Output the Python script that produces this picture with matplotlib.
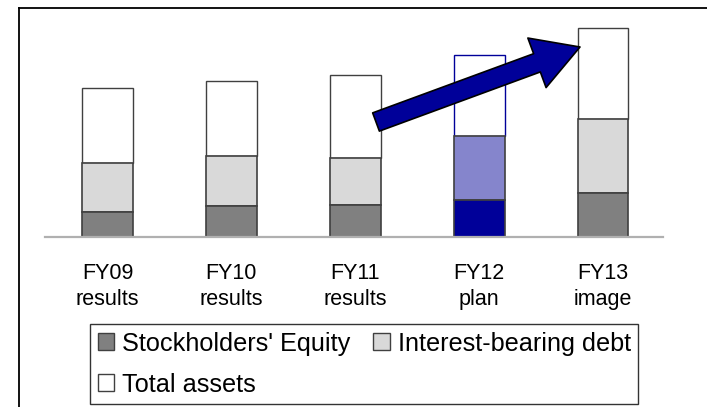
import matplotlib
matplotlib.use("Agg")
import matplotlib.pyplot as plt
from matplotlib.patches import Patch, FancyArrowPatch
from matplotlib.lines import Line2D
import numpy as np

plt.rcParams['font.family'] = ['Liberation Sans', 'DejaVu Sans']

# data (relative heights)
years = ['FY09\nresults', 'FY10\nresults', 'FY11\nresults', 'FY12\nplan', 'FY13\nimage']
equity = [25, 31, 32, 37, 44]
debt = [49, 50, 47, 64, 74]
total_assets = [149, 156, 162, 182, 209]

gray_eq, gray_debt = '#808080', '#d9d9d9'
plan_eq, plan_debt = '#000099', '#8585cc'
edge = '#404040'

fig = plt.figure(figsize=(7.07, 4.07), dpi=100)
ax = fig.add_axes([45 / 707, 170 / 407, 618 / 707, 230 / 407])

x = np.arange(len(years))
w = 0.41
eq = np.array(equity)
db = np.array(debt)
tot = np.array(total_assets)
rest = tot - eq - db

for i in range(len(x)):
    plan = years[i].endswith('plan')
    c1 = plan_eq if plan else gray_eq
    c2 = plan_debt if plan else gray_debt
    top_edge = plan_eq if plan else edge
    ax.bar(x[i], rest[i], w, bottom=eq[i] + db[i], color='white', edgecolor=top_edge, linewidth=1.0)
    ax.bar(x[i], db[i], w, bottom=eq[i], color=c2, edgecolor=edge, linewidth=1.2)
    ax.bar(x[i], eq[i], w, color=c1, edgecolor=edge, linewidth=1.2)

ax.set_xlim(-0.5045, 4.484)
ax.set_ylim(0, 230)
ax.set_xticks(x)
ax.set_xticklabels(years, fontsize=15.5, linespacing=1.3)
ax.tick_params(axis='x', length=0, pad=19)
ax.set_yticks([])
for s in ['top', 'left', 'right']:
    ax.spines[s].set_visible(False)
ax.spines['bottom'].set_color('#b0b0b0')
ax.spines['bottom'].set_linewidth(1.6)

# growth arrow from FY11/FY12 toward FY13
arrow = FancyArrowPatch((2.1675, 115), (3.814, 190),
                        arrowstyle='simple,head_length=33,head_width=38,tail_width=14',
                        mutation_scale=1, shrinkA=0, shrinkB=0,
                        facecolor='#000099', edgecolor='black', linewidth=1.2, zorder=5)
ax.add_patch(arrow)

# outer slide frame (top and left edges)
fig.add_artist(Line2D([19 / 707, 1], [1 - 8 / 407] * 2, color='black', lw=1.3))
fig.add_artist(Line2D([19 / 707] * 2, [0, 1 - 8 / 407], color='black', lw=1.3))

handles = [Patch(facecolor=gray_eq, edgecolor=edge, label="Stockholders' Equity"),
           Patch(facecolor='white', edgecolor=edge, label='Total assets'),
           Patch(facecolor=gray_debt, edgecolor=edge, label='Interest-bearing debt')]
leg = fig.legend(handles=handles, loc='upper left', bbox_to_anchor=(90 / 707, 1 - 324 / 407),
                 ncol=2, fontsize=18.2, frameon=True, fancybox=False, borderaxespad=0,
                 borderpad=0.3, handlelength=0.65, handleheight=0.65, handletextpad=0.32,
                 columnspacing=0.9, labelspacing=0.68)
leg.get_frame().set_edgecolor('black')
leg.get_frame().set_linewidth(1.0)

fig.savefig('out.png', dpi=100)
